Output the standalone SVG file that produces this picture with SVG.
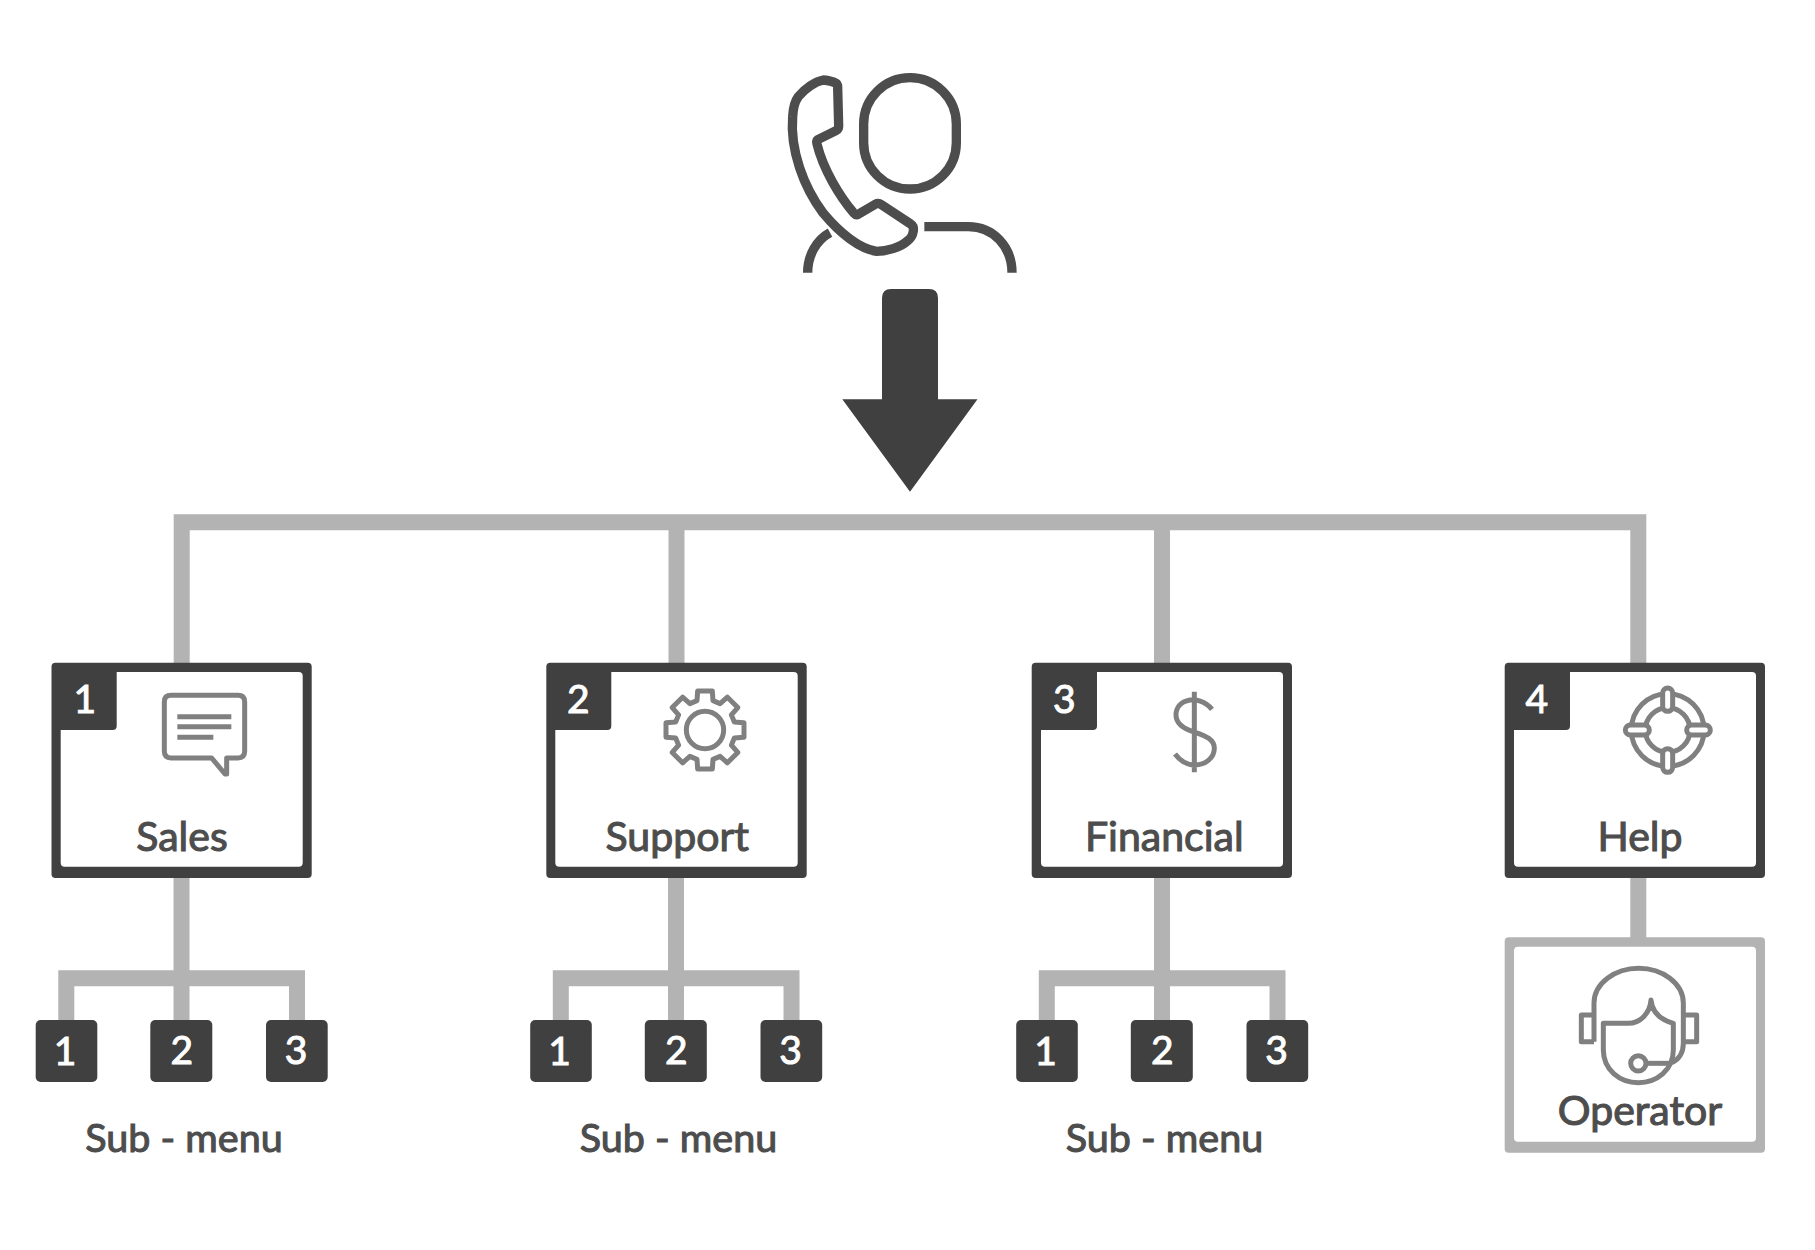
<svg xmlns="http://www.w3.org/2000/svg" xmlns:xlink="http://www.w3.org/1999/xlink" width="1815" height="1250" viewBox="0 0 1815 1250">
<style>
.conn{fill:none;stroke:#b3b3b3;stroke-width:16}
.dark{fill:#404040}
.white{fill:#fff}
.ln{fill:none;stroke:#808080;stroke-width:15;stroke-linejoin:round}
.pill{fill:#fff;stroke:#808080;stroke-width:15}
.person{fill:none;stroke:#4d4d4d;stroke-width:28;stroke-linejoin:round}
text{font-family:Lato,"Liberation Sans",sans-serif}
.lab{font-size:41px;fill:#4d4d4d;stroke:#4d4d4d;stroke-width:1.100px;text-anchor:middle}
.sub{font-size:39.500px}
.num{font-size:39px;fill:#fff;stroke:#fff;stroke-width:1px;text-anchor:middle}
</style>
<defs>
<path id="subconn" class="conn" d="M66.300 1022V978.300H297V1022M181.500 878V1022"/>
</defs>
<rect width="1815" height="1250" fill="#fff"/>
<g id="connectors">
<path class="conn" d="M181.700 664V522.300H1638.300V664M676.500 522.300V664M1162 522.300V664"/>
<use xlink:href="#subconn"/>
<use xlink:href="#subconn" x="494.500"/>
<use xlink:href="#subconn" x="980.500"/>
<path class="conn" d="M1638.300 878V940"/>
<path id="main-arrow" class="dark" d="M882 298Q882 289 891 289H929Q938 289 938 298V399.300H977.500L910 491.800L842.300 399.300H882Z"/>
</g>
<g id="caller" transform="translate(760 50) scale(.33333)">
<rect class="person" x="311" y="83" width="278" height="334" rx="139"/>
<path class="person" d="M493 530H625C700 530 756 590 756 668"/>
<path class="person" d="M143 668C143 615 170 570 210 548"/>
<path class="person" d="M190 90Q215 92 228 100Q233 103 233 112L236 228Q236 238 228 242L175 268Q168 272 171 282C190 360 240 440 282 490Q288 497 296 492L346 463Q355 458 364 464L452 522Q462 528 460 543Q457 563 442 573C420 593 380 604 350 604C300 598 240 550 190 490C130 410 90 300 98 200Q100 160 115 140C135 115 165 95 190 90Z"/>
</g>
<g id="node-sales">
<rect class="dark" x="51.500" y="662.700" width="260.200" height="215.300" rx="4"/>
<rect class="white" x="60.700" y="672" width="242" height="194.700" rx="4"/>
<path class="dark" d="M60 670H116.700V726Q116.700 730 112.700 730H60Z"/>
<text class="num" x="84.700" y="713.300">1</text>
<g transform="translate(30 650) scale(.33333)">
<path class="ln" d="M423 136H624Q644 136 644 156V304Q644 324 624 324H590V372H585L545 324H423Q403 324 403 304V156Q403 136 423 136Z"/>
<path class="ln" d="M442 200H604M442 230H604M442 262H550"/>
</g>
<text class="lab" x="182" y="850.700">Sales</text>
</g>
<g id="node-support">
<rect class="dark" x="546.300" y="662.700" width="260.400" height="215.300" rx="4"/>
<rect class="white" x="555.300" y="672" width="242.400" height="194.700" rx="4"/>
<path class="dark" d="M555 670H611.300V726Q611.300 730 607.300 730H555Z"/>
<text class="num" x="578.300" y="713.300">2</text>
<g transform="translate(530 650) scale(.33333) translate(525 240)">
<path class="ln" d="M-24-88L-22-117H22L24-88L45.300-79.200L67.200-98.300L98.300-67.200L79.200-45.300L88-24L117-22V22L88 24L79.200 45.300L98.300 67.200L67.200 98.300L45.300 79.200L24 88L22 117H-22L-24 88L-45.300 79.200L-67.200 98.300L-98.300 67.200L-79.200 45.300L-88 24L-117 22V-22L-88-24L-79.200-45.300L-98.300-67.200L-67.200-98.300L-45.300-79.200Z"/>
<circle class="ln" r="56"/>
</g>
<text class="lab" x="677.300" y="850.700">Support</text>
</g>
<g id="node-financial">
<rect class="dark" x="1031.700" y="662.700" width="260.300" height="215.300" rx="4"/>
<rect class="white" x="1041" y="672" width="242" height="194.700" rx="4"/>
<path class="dark" d="M1040 670H1097V726Q1097 730 1093 730H1040Z"/>
<text class="num" x="1064.300" y="713.300">3</text>
<g transform="translate(1020 650) scale(.33333)">
<path class="ln" d="M523 125V367M576 178C555 152 525 148 510 150C480 155 468 175 468 195C468 225 495 238 525 247C560 258 583 270 583 295C583 325 555 345 525 345C500 345 480 332 465 312"/>
</g>
<text class="lab" x="1164.300" y="850.700">Financial</text>
</g>
<g id="node-help">
<rect class="dark" x="1504.700" y="662.700" width="260.300" height="215.300" rx="4"/>
<rect class="white" x="1514" y="672" width="242" height="194.700" rx="4"/>
<path class="dark" d="M1513 670H1570V726Q1570 730 1566 730H1513Z"/>
<text class="num" x="1536.700" y="713.300">4</text>
<g transform="translate(1490 650) scale(.33333)">
<circle class="ln" cx="533" cy="240" r="109"/>
<circle class="ln" cx="533" cy="240" r="67"/>
<rect class="pill" x="518" y="114" width="30" height="70" rx="15"/>
<rect class="pill" x="518" y="296" width="30" height="71" rx="15"/>
<rect class="pill" x="406" y="225" width="72" height="30" rx="15"/>
<rect class="pill" x="590" y="225" width="71" height="30" rx="15"/>
</g>
<text class="lab" x="1640" y="850.700">Help</text>
</g>
<g id="node-operator">
<rect x="1504.700" y="937.300" width="260.300" height="215.400" rx="4" fill="#b3b3b3"/>
<rect class="white" x="1514" y="946.700" width="242" height="195" rx="4"/>
<g transform="translate(1490 920) scale(.33333)">
<path class="ln" d="M312 365H274V285H312M580 285H620V365H580"/>
<path class="ln" d="M312 365V250C312 190 375 145 446 145C517 145 580 190 580 250V370C580 400 565 420 545 428"/>
<path class="ln" d="M340 310H415C450 310 480 280 483 240C486 280 515 300 550 310V390C550 450 500 488 445 488C390 488 340 450 340 390Z"/>
<circle class="ln" cx="445" cy="430" r="23"/>
<path class="ln" d="M468 430H545"/>
</g>
<text class="lab" x="1640" y="1125">Operator</text>
</g>
<g id="sub-sales">
<rect class="dark" x="35.700" y="1020" width="61.600" height="62" rx="5"/><text class="num" x="65" y="1064.500">1</text>
<rect class="dark" x="150.300" y="1020" width="62" height="62" rx="5"/><text class="num" x="181.700" y="1063.500">2</text>
<rect class="dark" x="266" y="1020" width="61.700" height="62" rx="5"/><text class="num" x="296" y="1063.500">3</text>
<text class="lab sub" x="184" y="1151.700">Sub - menu</text>
</g>
<g id="sub-support">
<rect class="dark" x="530.200" y="1020" width="61.600" height="62" rx="5"/><text class="num" x="559.500" y="1064.500">1</text>
<rect class="dark" x="644.800" y="1020" width="62" height="62" rx="5"/><text class="num" x="676.200" y="1063.500">2</text>
<rect class="dark" x="760.500" y="1020" width="61.700" height="62" rx="5"/><text class="num" x="790.500" y="1063.500">3</text>
<text class="lab sub" x="678.500" y="1151.700">Sub - menu</text>
</g>
<g id="sub-financial">
<rect class="dark" x="1016.200" y="1020" width="61.600" height="62" rx="5"/><text class="num" x="1045.500" y="1064.500">1</text>
<rect class="dark" x="1130.800" y="1020" width="62" height="62" rx="5"/><text class="num" x="1162.200" y="1063.500">2</text>
<rect class="dark" x="1246.500" y="1020" width="61.700" height="62" rx="5"/><text class="num" x="1276.500" y="1063.500">3</text>
<text class="lab sub" x="1164.500" y="1151.700">Sub - menu</text>
</g>
</svg>
